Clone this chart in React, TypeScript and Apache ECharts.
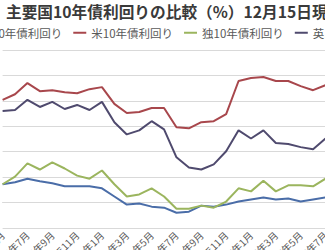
import React, { useEffect, useRef } from "react";
import * as echarts from "echarts";

const months = [
  "2015年5月", "2015年6月", "2015年7月", "2015年8月", "2015年9月", "2015年10月", "2015年11月", "2015年12月",
  "2016年1月", "2016年2月", "2016年3月", "2016年4月", "2016年5月", "2016年6月", "2016年7月", "2016年8月",
  "2016年9月", "2016年10月", "2016年11月", "2016年12月", "2017年1月", "2017年2月", "2017年3月", "2017年4月",
  "2017年5月", "2017年6月", "2017年7月",
];

const japan = [0.36, 0.40, 0.47, 0.42, 0.38, 0.32, 0.32, 0.32, 0.28, 0.12, -0.04, -0.02, -0.08, -0.10, -0.20, -0.18, -0.06, -0.08, -0.04, 0.02, 0.06, 0.10, 0.06, 0.08, 0.02, 0.06, 0.10];
const us = [2.02, 2.13, 2.35, 2.19, 2.21, 2.17, 2.15, 2.23, 2.27, 1.94, 1.76, 1.78, 1.86, 1.86, 1.48, 1.46, 1.58, 1.60, 1.74, 2.39, 2.45, 2.47, 2.39, 2.39, 2.29, 2.21, 2.31];
const germany = [0.36, 0.51, 0.77, 0.65, 0.79, 0.67, 0.53, 0.47, 0.63, 0.36, 0.12, 0.16, 0.28, 0.12, -0.12, -0.12, -0.06, -0.10, 0.02, 0.28, 0.22, 0.43, 0.22, 0.34, 0.34, 0.32, 0.47];
const uk = [1.80, 1.82, 2.02, 1.88, 1.98, 1.84, 1.92, 1.82, 1.98, 1.58, 1.34, 1.42, 1.60, 1.44, 0.89, 0.69, 0.65, 0.75, 1.01, 1.42, 1.26, 1.42, 1.17, 1.15, 1.09, 1.05, 1.26];

const seriesNames = ["日本10年債利回り", "米10年債利回り", "独10年債利回り", "英10年債利回り"];
const seriesColors = ["#4a6da8", "#a8474c", "#9bb55e", "#4f4a6e"];
const titleText = "主要国10年債利回りの比較（%）12月15日現在";

const OFFSET = 60;
const CHART_W = 700;
const CHART_H = 290;
const FONT = '"Noto Sans CJK JP", "Noto Sans", sans-serif';

export default function App() {
  const ref = useRef<HTMLDivElement>(null);
  useEffect(() => {
    document.body.style.margin = "0";
    if (!ref.current) return;
    const chart = echarts.init(ref.current, undefined, { renderer: "svg" });
    const data = [japan, us, germany, uk];
    chart.setOption({
      animation: false,
      backgroundColor: "#ffffff",
      textStyle: { fontFamily: FONT },
      title: {
        text: titleText,
        left: OFFSET + 6,
        top: 4,
        padding: 0,
        textStyle: { fontSize: 15.7, fontWeight: "bold", color: "#3a3a3a", fontFamily: FONT },
      },
      legend: {
        data: seriesNames,
        left: 6,
        top: 22,
        icon: "rect",
        itemWidth: 13,
        itemHeight: 2,
        itemGap: 11,
        textStyle: { fontSize: 11.5, color: "#595959", fontFamily: FONT },
      },
      grid: {
        left: OFFSET + 2.6,
        right: CHART_W - (OFFSET + 325.5),
        top: 50,
        bottom: CHART_H - 228,
        containLabel: false,
        outerBoundsMode: "none",
      },
      xAxis: {
        type: "category",
        data: months,
        boundaryGap: false,
        axisLine: { show: true, lineStyle: { color: "#d9d9d9" } },
        axisTick: { show: false },
        axisLabel: {
          interval: 1,
          rotate: 45,
          fontSize: 10,
          color: "#595959",
          margin: 5,
          fontFamily: FONT,
        },
      },
      yAxis: {
        type: "value",
        min: -0.5,
        max: 3,
        interval: 0.5,
        axisLine: { show: false },
        axisTick: { show: false },
        axisLabel: { show: false },
        splitLine: { lineStyle: { color: "#d9d9d9", width: 1 } },
      },
      series: seriesNames.map((name, i) => ({
        name,
        type: "line",
        data: data[i],
        symbol: "none",
        showSymbol: false,
        lineStyle: { width: 2, color: seriesColors[i] },
        itemStyle: { color: seriesColors[i] },
      })),
    });
    return () => chart.dispose();
  }, []);
  return (
    <div style={{ position: "relative", width: 325, height: 250, overflow: "hidden", background: "#fff" }}>
      <div ref={ref} style={{ position: "absolute", left: -OFFSET, top: 0, width: CHART_W, height: CHART_H }} />
    </div>
  );
}
